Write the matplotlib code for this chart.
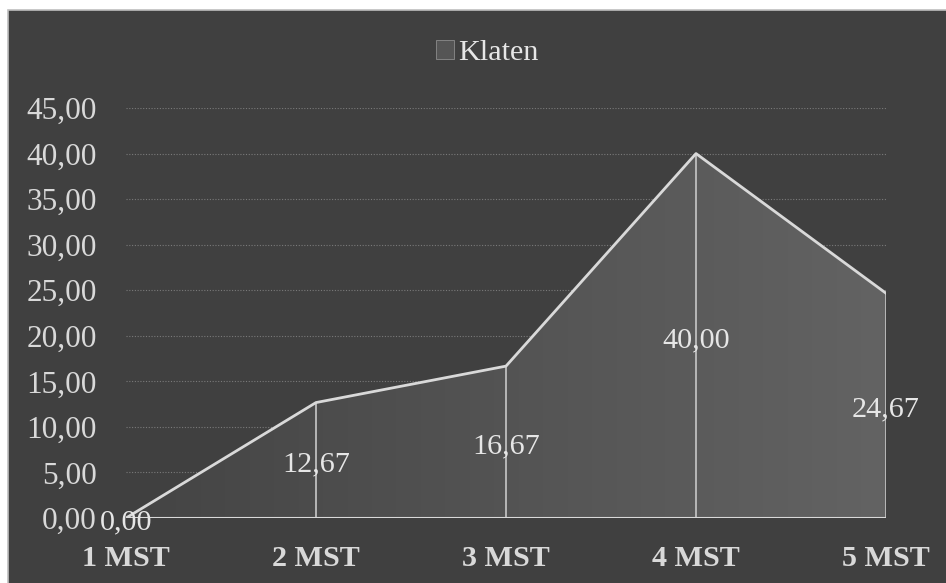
import numpy as np
import matplotlib.pyplot as plt
from matplotlib.patches import Rectangle, Polygon, Patch
from matplotlib.colors import LinearSegmentedColormap

categories = ['1 MST', '2 MST', '3 MST', '4 MST', '5 MST']
klaten = [0.00, 12.67, 16.67, 40.00, 24.67]
yticks = [0, 5, 10, 15, 20, 25, 30, 35, 40, 45]

def fmt(v):
    return f'{v:.2f}'.replace('.', ',')

plt.rcParams['font.family'] = ['Liberation Serif', 'DejaVu Serif']

fig = plt.figure(figsize=(9.46, 5.83), dpi=100, facecolor='white')
# dark chart area with thin light border
fig.patches.append(Rectangle((8 / 946, -0.01), 1.0, 1 - 10 / 583 + 0.01,
                             transform=fig.transFigure, facecolor='#404040',
                             edgecolor='#bfbfbf', linewidth=1.2, zorder=-5))

ax = fig.add_axes([126 / 946, 1 - 518 / 583, 760 / 946, 410 / 583])
ax.set_facecolor('none')
x = np.arange(len(categories))
ax.set_xlim(0, len(categories) - 1)
ax.set_ylim(0, 45)

for y in yticks:
    ax.axhline(y, color='#7a7a7a', lw=0.8, ls=(0, (1, 1.5)), zorder=1)

# area with a left-to-right gradient, clipped to the series polygon
cmap = LinearSegmentedColormap.from_list('g', ['#444444', '#636363'])
grad = np.linspace(0, 1, 256).reshape(1, -1)
img = ax.imshow(grad, extent=[0, len(categories) - 1, 0, 45], aspect='auto',
                cmap=cmap, origin='lower', zorder=2)
poly = Polygon(list(zip(x, klaten)) + [(x[-1], 0), (x[0], 0)], closed=True,
               facecolor='none', edgecolor='none', transform=ax.transData)
ax.add_patch(poly)
img.set_clip_path(poly)

ax.vlines(x, 0, klaten, color='#bfbfbf', lw=1.3, zorder=3)
ax.plot(x, klaten, color='#d9d9d9', lw=2, zorder=4)
ax.axhline(0, color='#d9d9d9', lw=1.5, zorder=4)

for xi, v in zip(x, klaten):
    ax.annotate(fmt(v), (xi, v / 2), xytext=(0, -3), textcoords='offset points',
                ha='center', va='center', fontsize=21.7, color='#e6e6e6', zorder=5)

for s in ax.spines.values():
    s.set_visible(False)
ax.set_yticks(yticks)
ax.set_yticklabels([fmt(v) for v in yticks], fontsize=22.5, color='#d9d9d9')
ax.set_xticks(x)
ax.set_xticklabels(categories, fontsize=21.7, fontweight='bold', color='#d9d9d9')
ax.tick_params(axis='y', length=0, pad=21)
ax.tick_params(axis='x', length=0, pad=19.5)

handle = Patch(facecolor='#555555', edgecolor='#8c8c8c', linewidth=0.6)
leg = ax.legend([handle], ['Klaten'], loc='center', bbox_to_anchor=(487 / 946, 1 - 53 / 583),
                bbox_transform=fig.transFigure, frameon=False, fontsize=21.7,
                handlelength=0.6, handleheight=0.6, handletextpad=0.15,
                labelcolor='#e6e6e6')

fig.savefig('out.png', dpi=100, facecolor='white')
